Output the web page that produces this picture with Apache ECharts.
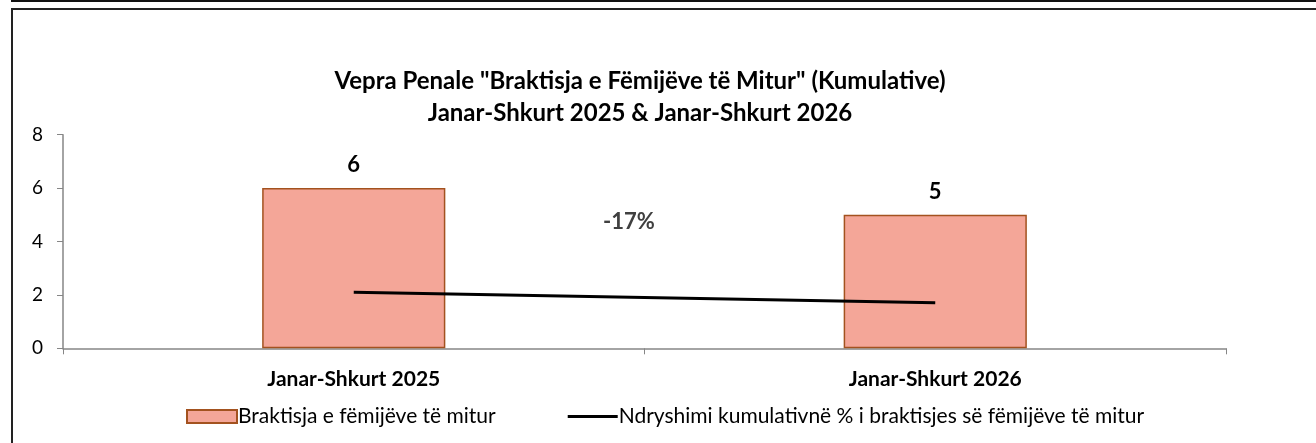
<!DOCTYPE html>
<html>
<head>
<meta charset="utf-8">
<script src="https://cdn.jsdelivr.net/npm/echarts@6/dist/echarts.min.js"></script>
<style>
html,body{margin:0;padding:0;background:#fff;}
#chart{width:1316px;height:443px;}
</style>
</head>
<body>
<div id="chart"></div>
<script>
const titleText = 'Vepra Penale "Braktisja e Fëmijëve të Mitur" (Kumulative)\nJanar-Shkurt 2025 & Janar-Shkurt 2026';
const categories = ['Janar-Shkurt 2025', 'Janar-Shkurt 2026'];
const barName = 'Braktisja e fëmijëve të mitur';
const barValues = [6, 5];
const lineName = 'Ndryshimi kumulativnë % i braktisjes së fëmijëve të mitur';
const lineValues = [2.1, 1.71];
const yTicks = [0, 2, 4, 6, 8];
const changeLabel = Math.round((barValues[1] - barValues[0]) / barValues[0] * 100) + '%';

const FONT = 'Lato, "Open Sans", sans-serif';
const chart = echarts.init(document.getElementById('chart'));
chart.setOption({
  animation: false,
  backgroundColor: '#fff',
  textStyle: { fontFamily: FONT },
  title: {
    text: titleText,
    left: 635, top: 60, textAlign: 'center',
    textStyle: { fontFamily: FONT, fontSize: 24, fontWeight: 'bold', color: '#000', lineHeight: 32 }
  },
  legend: {
    left: 181, top: 401,
    itemWidth: 50, itemHeight: 13, itemGap: 72,
    textStyle: { fontFamily: FONT, fontSize: 21, color: '#000', padding: [0, 0, 0, -4] },
    data: [
      { name: barName, icon: 'rect' },
      { name: lineName, icon: 'path://M0,0 L50,0 L50,3 L0,3 Z', itemStyle: { color: '#000', borderWidth: 0 } }
    ]
  },
  grid: { left: 63, right: 90, top: 134.7, bottom: 94.7, containLabel: false },
  xAxis: {
    type: 'category', data: categories,
    axisLine: { lineStyle: { color: '#868686', width: 1.5 } },
    axisTick: { show: true, length: 6, lineStyle: { color: '#868686' }, alignWithLabel: false },
    axisLabel: { margin: 20, fontFamily: FONT, fontSize: 21, fontWeight: 'bold', color: '#000' }
  },
  yAxis: {
    type: 'value', min: yTicks[0], max: yTicks[yTicks.length - 1], interval: 2,
    axisLine: { show: true, lineStyle: { color: '#868686', width: 1.5 } },
    axisTick: { show: true, length: 6, lineStyle: { color: '#868686' } },
    splitLine: { show: false },
    axisLabel: { margin: 20, fontFamily: FONT, fontSize: 19, color: '#000' }
  },
  series: [
    {
      name: barName, type: 'bar', data: barValues, barWidth: '31.5%',
      itemStyle: { color: '#F4A698', borderColor: '#A3521F', borderWidth: 1.5 },
      label: { show: true, position: 'top', distance: 12, fontFamily: FONT, fontSize: 22, fontWeight: 'bold', color: '#000' }
    },
    {
      name: lineName, type: 'line', data: lineValues, symbol: 'none',
      lineStyle: { color: '#000', width: 3 }, itemStyle: { color: '#000' }, z: 5
    }
  ],
  graphic: [
    { type: 'rect', shape: { x: 12, y: 0, width: 1304, height: 2 }, style: { fill: '#111' } },
    { type: 'rect', shape: { x: 11, y: 0, width: 2, height: 2 }, style: { fill: '#111' } },
    { type: 'rect', shape: { x: 11, y: 8, width: 1305, height: 2 }, style: { fill: '#222' } },
    { type: 'rect', shape: { x: 11, y: 8, width: 2, height: 435 }, style: { fill: '#222' } },
    { type: 'text', left: 603, top: 211, style: { text: changeLabel, font: 'bold 22px ' + FONT, fill: '#404040' } }
  ]
});
</script>
</body>
</html>
